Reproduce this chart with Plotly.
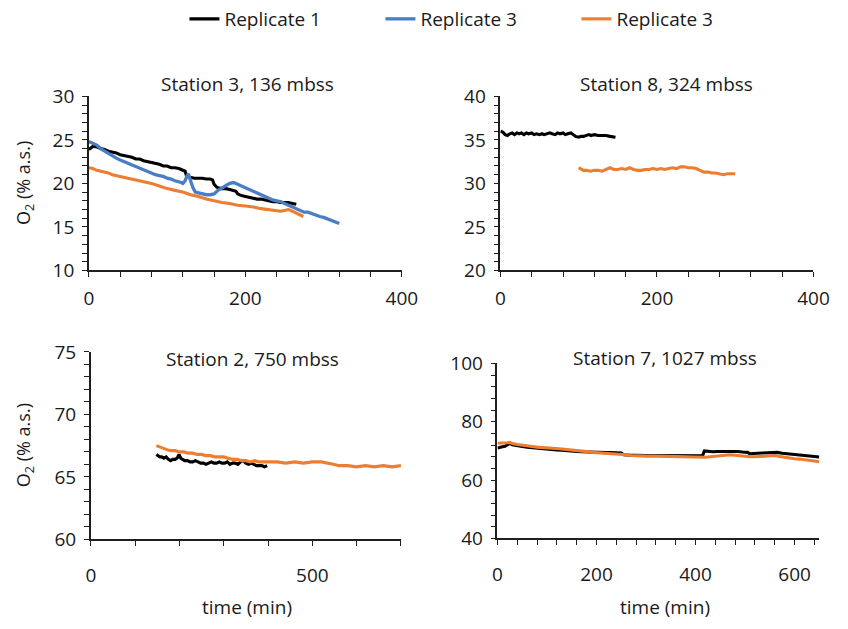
import plotly.graph_objects as go

# ---- Station 3, 136 mbss ----
s3_r1_t = [0, 2, 4, 6, 8, 10, 15, 20, 25, 30, 35, 40, 45, 50, 55, 60, 65, 70, 75, 80, 85, 90, 95, 100,
           105, 110, 115, 120, 123, 125, 130, 135, 140, 145, 150, 155, 158, 160, 163, 165, 170, 175, 180,
           185, 188, 190, 195, 200, 205, 210, 215, 220, 225, 230, 235, 240, 245, 250, 255, 260, 265]
s3_r1_o2 = [23.9, 24.0, 24.1, 24.3, 24.2, 24.2, 24.0, 23.9, 23.7, 23.6, 23.5, 23.3, 23.2, 23.1, 23.0, 22.8,
            22.8, 22.6, 22.5, 22.4, 22.3, 22.2, 22.0, 22.0, 21.8, 21.8, 21.7, 21.5, 21.4, 20.8, 20.7, 20.6,
            20.6, 20.6, 20.5, 20.5, 20.4, 19.9, 19.6, 19.5, 19.4, 19.4, 19.3, 19.2, 19.1, 18.8, 18.6, 18.5,
            18.4, 18.3, 18.2, 18.2, 18.1, 18.0, 17.9, 17.9, 17.8, 17.8, 17.8, 17.7, 17.6]
s3_r3a_t = [0, 5, 10, 15, 20, 25, 30, 35, 40, 45, 50, 55, 60, 65, 70, 75, 80, 85, 90, 95, 100, 105, 110,
            115, 118, 120, 123, 125, 127, 130, 133, 136, 140, 145, 150, 155, 160, 165, 170, 175, 180, 185,
            190, 195, 200, 205, 210, 215, 220, 225, 230, 235, 240, 245, 250, 255, 260, 265, 270, 275, 280,
            285, 290, 295, 300, 305, 310, 315, 320]
s3_r3a_o2 = [24.8, 24.6, 24.4, 24.0, 23.7, 23.4, 23.2, 22.9, 22.7, 22.5, 22.3, 22.1, 21.9, 21.7, 21.5,
             21.3, 21.2, 21.0, 20.9, 20.8, 20.6, 20.5, 20.3, 20.2, 20.1, 20.0, 20.3, 20.8, 21.1, 20.3,
             19.5, 19.0, 18.9, 18.8, 18.7, 18.7, 18.8, 19.2, 19.5, 19.7, 20.0, 20.1, 19.9, 19.7, 19.5,
             19.3, 19.1, 18.9, 18.6, 18.4, 18.3, 18.1, 18.0, 17.9, 17.7, 17.5, 17.3, 17.1, 16.9, 16.7,
             16.7, 16.5, 16.4, 16.2, 16.1, 15.9, 15.7, 15.6, 15.4]
s3_r3b_t = [0, 5, 10, 15, 20, 25, 30, 40, 50, 60, 70, 80, 90, 100, 110, 120, 130, 140, 150, 160, 170, 180,
            190, 200, 210, 220, 230, 240, 245, 250, 255, 258, 262, 266, 270, 274]
s3_r3b_o2 = [21.8, 21.7, 21.5, 21.4, 21.3, 21.2, 21.0, 20.8, 20.6, 20.4, 20.2, 20.0, 19.7, 19.4, 19.2,
             19.0, 18.7, 18.5, 18.2, 18.0, 17.8, 17.7, 17.5, 17.4, 17.3, 17.1, 17.0, 16.9, 16.8, 16.9,
             17.0, 16.9, 16.7, 16.5, 16.4, 16.2]

# ---- Station 8, 324 mbss ----
s8_r1_t = [0, 3, 6, 9, 12, 15, 18, 21, 24, 27, 30, 33, 36, 40, 43, 46, 50, 53, 56, 60, 63, 66, 70, 73, 76,
           80, 83, 86, 90, 93, 96, 100, 103, 106, 110, 113, 116, 120, 125, 130, 135, 140, 147]
s8_r1_o2 = [36.0, 35.9, 35.6, 35.5, 35.7, 35.8, 35.6, 35.8, 35.7, 35.8, 35.6, 35.8, 35.7, 35.8, 35.6, 35.7,
            35.6, 35.7, 35.6, 35.7, 35.8, 35.7, 35.6, 35.8, 35.7, 35.8, 35.6, 35.7, 35.8, 35.6, 35.4, 35.3,
            35.4, 35.4, 35.5, 35.6, 35.5, 35.6, 35.5, 35.5, 35.5, 35.4, 35.3]
s8_r3b_t = [100, 103, 106, 110, 115, 120, 125, 130, 135, 140, 145, 150, 155, 160, 165, 170, 175, 180, 185,
            190, 195, 200, 205, 210, 215, 220, 225, 230, 235, 240, 245, 250, 255, 260, 265, 270, 275, 280,
            285, 290, 295, 300]
s8_r3b_o2 = [31.8, 31.6, 31.5, 31.5, 31.4, 31.5, 31.5, 31.4, 31.6, 31.8, 31.6, 31.6, 31.7, 31.6, 31.8,
             31.6, 31.5, 31.5, 31.6, 31.6, 31.7, 31.6, 31.7, 31.6, 31.7, 31.8, 31.7, 31.9, 31.9, 31.8,
             31.8, 31.7, 31.5, 31.3, 31.3, 31.2, 31.2, 31.1, 31.0, 31.1, 31.1, 31.1]

# ---- Station 2, 750 mbss ----
s2_r1_t = [148, 152, 156, 160, 165, 170, 175, 180, 185, 190, 195, 199, 203, 207, 212, 218, 224, 230, 236,
           242, 248, 254, 260, 266, 272, 278, 284, 290, 296, 302, 308, 314, 320, 326, 332, 338, 344, 350,
           356, 362, 368, 374, 380, 386, 392, 398]
s2_r1_o2 = [66.8, 66.7, 66.6, 66.6, 66.5, 66.6, 66.4, 66.3, 66.4, 66.4, 66.5, 66.8, 66.5, 66.4, 66.3, 66.3,
            66.2, 66.2, 66.3, 66.2, 66.1, 66.1, 66.0, 66.1, 66.2, 66.1, 66.1, 66.2, 66.1, 66.1, 66.2, 66.0,
            66.1, 66.1, 66.0, 66.2, 66.3, 66.1, 66.0, 66.1, 66.0, 65.9, 65.9, 65.9, 65.8, 65.9]
s2_r3b_t = [148, 155, 160, 170, 180, 190, 200, 210, 220, 230, 240, 250, 260, 270, 280, 290, 300, 310, 320,
            330, 340, 350, 360, 370, 380, 390, 400, 420, 440, 460, 480, 500, 520, 540, 550, 560, 570, 580,
            600, 620, 640, 660, 680, 700]
s2_r3b_o2 = [67.5, 67.4, 67.3, 67.2, 67.1, 67.1, 67.0, 67.0, 66.9, 66.9, 66.8, 66.8, 66.7, 66.7, 66.6,
             66.6, 66.6, 66.5, 66.4, 66.4, 66.3, 66.3, 66.2, 66.3, 66.2, 66.2, 66.2, 66.2, 66.1, 66.2,
             66.1, 66.2, 66.2, 66.1, 66.0, 65.9, 65.9, 65.9, 65.8, 65.9, 65.8, 65.9, 65.8, 65.9]

# ---- Station 7, 1027 mbss ----
s7_r1_t = [0, 5, 10, 15, 20, 25, 30, 40, 50, 60, 70, 80, 90, 100, 110, 120, 130, 140, 150, 160, 170, 180,
           190, 200, 210, 220, 230, 240, 250, 255, 260, 270, 280, 290, 300, 320, 340, 360, 380, 400, 410,
           414, 418, 425, 435, 445, 455, 465, 475, 485, 495, 505, 510, 515, 525, 535, 545, 555, 565, 575,
           585, 595, 605, 615, 625, 635, 645, 650]
s7_r1_o2 = [71.0, 71.3, 71.4, 71.6, 72.2, 72.6, 72.1, 71.7, 71.5, 71.3, 71.1, 71.0, 70.8, 70.6, 70.4, 70.3,
            70.2, 70.0, 69.9, 69.8, 69.7, 69.6, 69.6, 69.5, 69.5, 69.4, 69.4, 69.3, 69.3, 68.7, 68.6, 68.5,
            68.5, 68.4, 68.4, 68.4, 68.4, 68.3, 68.3, 68.3, 68.2, 68.3, 70.0, 69.8, 69.7, 69.8, 69.8, 70.0,
            70.0, 69.8, 69.6, 69.5, 69.0, 69.0, 69.2, 69.3, 69.4, 69.6, 69.5, 69.2, 69.0, 68.9, 68.8, 68.6,
            68.4, 68.2, 68.0, 67.9]
s7_r3b_t = [0, 10, 20, 25, 30, 40, 50, 60, 70, 80, 90, 100, 110, 120, 130, 140, 150, 160, 170, 180, 190,
            200, 210, 220, 230, 240, 250, 260, 270, 280, 300, 320, 340, 360, 380, 400, 410, 420, 430, 440,
            450, 460, 470, 480, 490, 500, 510, 520, 530, 540, 550, 560, 570, 580, 590, 600, 610, 620, 630,
            640, 650]
s7_r3b_o2 = [72.6, 72.6, 72.8, 72.9, 72.5, 72.2, 71.9, 71.7, 71.5, 71.3, 71.1, 71.0, 70.9, 70.8, 70.6,
             70.5, 70.3, 70.0, 69.8, 69.6, 69.5, 69.4, 69.3, 69.2, 69.1, 69.0, 68.9, 68.7, 68.4, 68.3,
             68.2, 68.2, 68.1, 68.1, 68.0, 68.0, 67.9, 67.8, 68.0, 68.2, 68.4, 68.6, 68.7, 68.5, 68.3,
             68.2, 68.0, 68.0, 68.1, 68.2, 68.3, 68.4, 68.1, 67.8, 67.5, 67.3, 67.2, 67.0, 66.8, 66.6, 66.3]

series_names = ["Replicate 1", "Replicate 3", "Replicate 3"]
series_colors = ["#000000", "#4A7EC4", "#ED7D31"]

panel_titles = ["Station 3, 136 mbss", "Station 8, 324 mbss", "Station 2, 750 mbss", "Station 7, 1027 mbss"]

W, H = 848, 629
FONT = "Open Sans"
TXT = "#1a1a1a"


def px_x(v):
    return v / W


def px_y(v):
    return 1 - v / H


fig = go.Figure()

panels = [
    # (xaxis id, yaxis id, list of (series index, t, o2))
    ("x", "y", [(0, s3_r1_t, s3_r1_o2), (1, s3_r3a_t, s3_r3a_o2), (2, s3_r3b_t, s3_r3b_o2)]),
    ("x2", "y2", [(0, s8_r1_t, s8_r1_o2), (2, s8_r3b_t, s8_r3b_o2)]),
    ("x3", "y3", [(0, s2_r1_t, s2_r1_o2), (2, s2_r3b_t, s2_r3b_o2)]),
    ("x4", "y4", [(0, s7_r1_t, s7_r1_o2), (2, s7_r3b_t, s7_r3b_o2)]),
]

for pi, (xa, ya, traces) in enumerate(panels):
    for si, t, o2 in traces:
        fig.add_trace(go.Scatter(
            x=t, y=o2, xaxis=xa, yaxis=ya, mode="lines",
            name=series_names[si], legendgroup=f"s{si}", showlegend=(pi == 0),
            line=dict(color=series_colors[si], width=3.3 if si == 1 else 3.1),
        ))

axis_common = dict(
    showline=True, linecolor="#1f1f1f", linewidth=1.6, showgrid=False, zeroline=False,
    ticks="outside", ticklen=5, tickwidth=1.3, tickcolor="#1f1f1f",
    tickfont=dict(family=FONT, size=19, color=TXT),
)

# (x domain px, y domain px, x range, x dtick, x minor, y range, y dtick, y minor)
geom = [
    ((86, 407), (86, 268), (0, 400), 200, 40, (10, 30), 5, 1),
    ((508, 829), (86, 268), (0, 400), 200, 40, (20, 40), 5, 1),
    ((88, 406), (353, 549), (0, 700), 500, 100, (60, 75), 5, 1),
    ((505, 835), (365, 548), (0, 650), 200, 40, (40, 100), 20, 4),
]

layout = {}
for i, (xd, yd, xr, xdt, xmin, yr, ydt, ymin) in enumerate(geom):
    sfx = "" if i == 0 else str(i + 1)
    layout[f"xaxis{sfx}"] = dict(
        axis_common, domain=[px_x(xd[0]), px_x(xd[1])], range=list(xr), dtick=xdt, tick0=0,
        anchor=f"y{sfx}", ticklabelstandoff=5 if i < 2 else 13,
        minor=dict(dtick=xmin, tick0=0, ticks="outside", ticklen=5, tickwidth=1.3, tickcolor="#1f1f1f"),
    )
    layout[f"yaxis{sfx}"] = dict(
        axis_common, domain=[px_y(yd[1]), px_y(yd[0])], range=list(yr), dtick=ydt, tick0=0,
        anchor=f"x{sfx}", ticklabelstandoff=4,
        minor=dict(dtick=ymin, tick0=0, ticks="outside", ticklen=5, tickwidth=1.3, tickcolor="#1f1f1f"),
    )

annotations = []
title_pos = [(249, 73), (678, 73), (254, 360), (677, 359)]
for txt, (cx, cy) in zip(panel_titles, title_pos):
    annotations.append(dict(text=txt, x=px_x(cx), y=px_y(cy), xref="paper", yref="paper",
                            xanchor="center", yanchor="middle", showarrow=False,
                            font=dict(family=FONT, size=19, color=TXT)))
for cy in (177, 451):
    annotations.append(dict(text="O<sub>2</sub> (% a.s.)", x=px_x(20), y=px_y(cy), xref="paper",
                            yref="paper", xanchor="center", yanchor="middle", textangle=-90,
                            showarrow=False, font=dict(family=FONT, size=18, color=TXT)))
for cx in (248, 677):
    annotations.append(dict(text="time (min)", x=px_x(cx), y=px_y(620), xref="paper", yref="paper",
                            xanchor="center", yanchor="middle", showarrow=False,
                            font=dict(family=FONT, size=19, color=TXT)))

fig.update_layout(
    width=W, height=H, margin=dict(l=0, r=0, t=0, b=0),
    paper_bgcolor="white", plot_bgcolor="white",
    showlegend=True,
    legend=dict(orientation="h", x=px_x(184), y=px_y(-15), xanchor="left", yanchor="top",
                font=dict(family=FONT, size=19, color=TXT), entrywidth=151, entrywidthmode="pixels",
                bgcolor="rgba(0,0,0,0)", traceorder="normal"),
    annotations=annotations,
    **layout,
)

fig.write_html("out.html")
